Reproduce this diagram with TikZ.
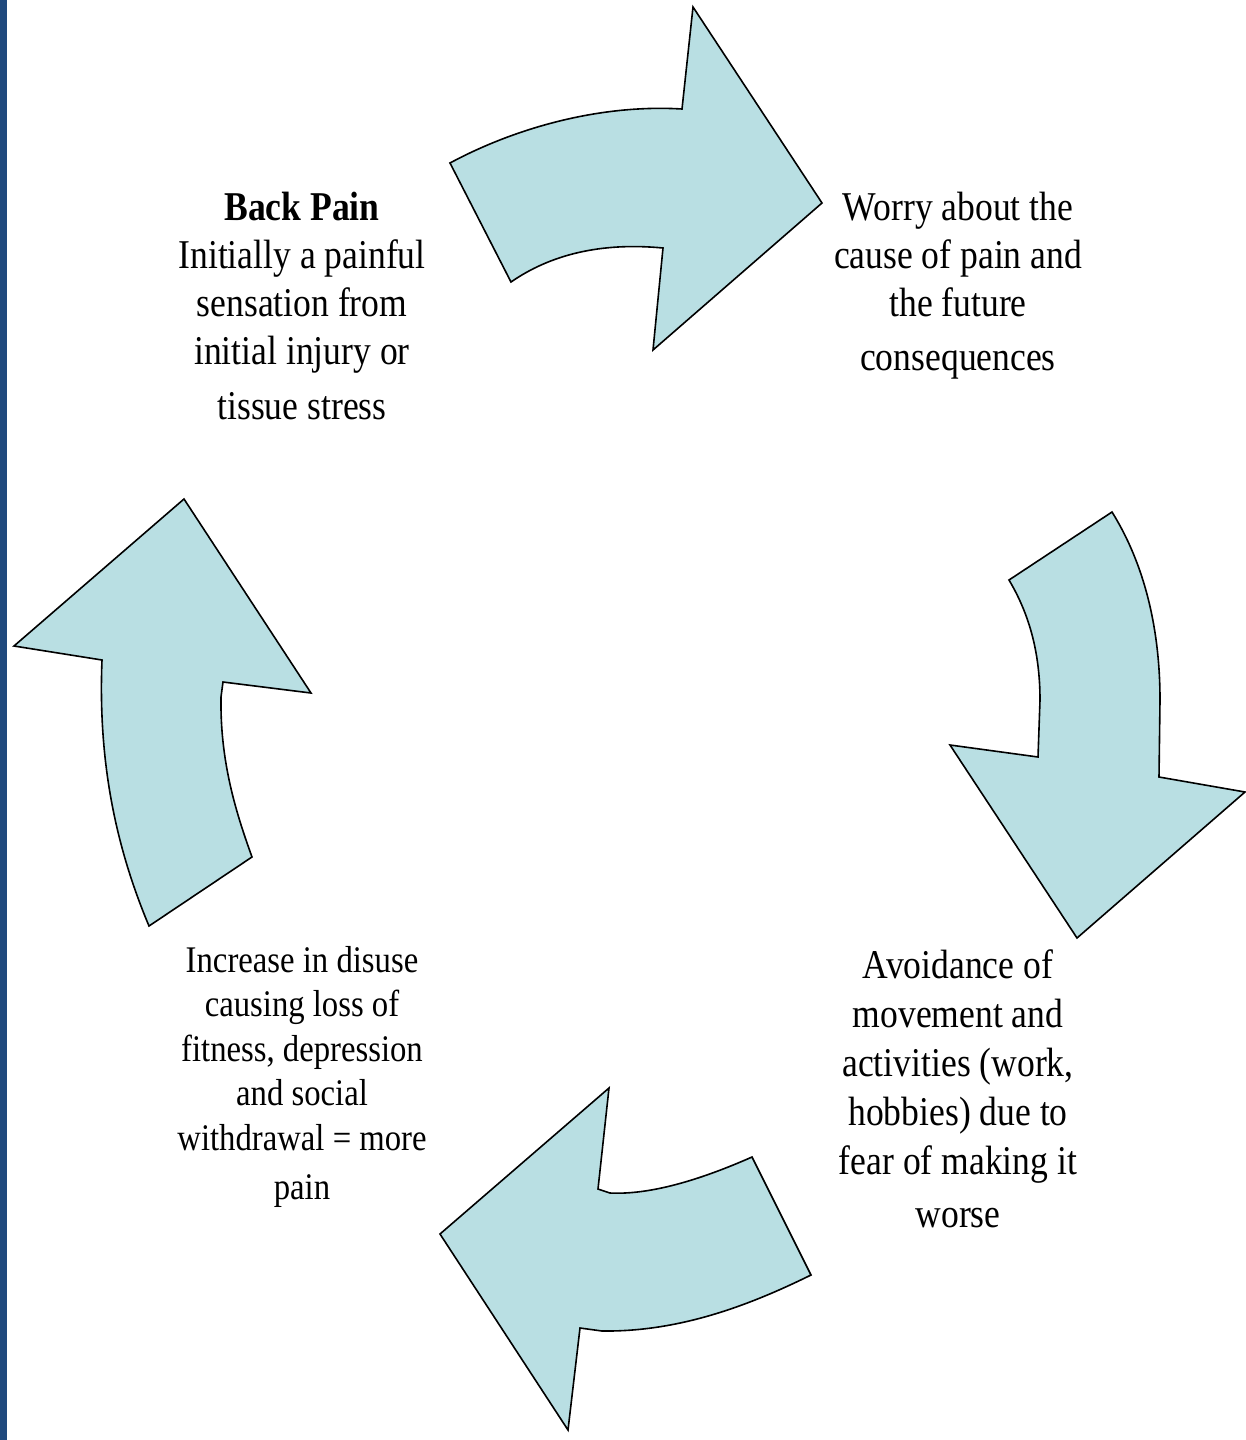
\documentclass[tikz,border=0pt]{standalone}
\usepackage{fontspec}
\setmainfont{Liberation Serif}[FakeStretch=0.87]
\definecolor{barblue}{HTML}{1F497D}
\definecolor{arrowfill}{HTML}{B9DFE3}
\begin{document}
\begin{tikzpicture}[x=1pt,y=-1pt,
  cyclearrow/.style={draw=black, fill=arrowfill, line width=1.6pt, line join=miter},
  steptext/.style={align=center, inner sep=0pt, anchor=north, font=\fontsize{40.9}{48}\selectfont},
  widetext/.style={align=center, inner sep=0pt, anchor=north, font=\fontsize{40.9}{49.2}\selectfont},
  smalltext/.style={align=center, inner sep=0pt, anchor=north, font=\fontsize{37.6}{44.5}\selectfont}]
\useasboundingbox (0,0) rectangle (1246,1440);
\fill[white] (0,0) rectangle (1246,1440);
\fill[barblue] (0,0) rectangle (7,1440);

% top arrow (pointing right)
\draw[cyclearrow] (450,163) .. controls (515,128) and (600,104) .. (682,109)
  -- (693,7) -- (822,203) -- (653,350) -- (663,248)
  .. controls (600,242) and (550,255) .. (511,282) -- cycle;

% right arrow (pointing down)
\draw[cyclearrow] (1112,512) .. controls (1145,565) and (1160,630) .. (1160,700)
  -- (1159,777) -- (1245,792) -- (1077,938) -- (950,745) -- (1038,757) -- (1040,700)
  .. controls (1040,650) and (1028,612) .. (1009,580) -- cycle;

% bottom arrow (pointing left)
\draw[cyclearrow] (752,1157) .. controls (700,1180) and (650,1195) .. (610,1193)
  -- (598,1189) -- (609,1088) -- (440,1234) -- (568,1430) -- (580,1328) -- (602,1331)
  .. controls (680,1332) and (750,1305) .. (811,1275) -- cycle;

% left arrow (pointing up)
\draw[cyclearrow] (184,499) -- (311,693) -- (223,682) -- (221,697)
  .. controls (220,760) and (235,810) .. (252,857)
  -- (149,926) .. controls (115,845) and (98,760) .. (102,660)
  -- (14,646) -- cycle;

\node[steptext] (backpain) at (302,192) {\textbf{Back Pain}\\Initially a painful\\sensation from\\initial injury or\\[7pt]tissue stress};
\node[steptext] (worry) at (958,192) {Worry about the\\cause of pain and\\the future\\[6pt]consequences};
\node[widetext] (avoid) at (958,949) {Avoidance of\\movement and\\activities (work,\\hobbies) due to\\fear of making it\\[3pt]worse};
\node[smalltext] (disuse) at (302,946) {Increase in disuse\\causing loss of\\fitness, depression\\and social\\withdrawal = more\\[5pt]pain};
\end{tikzpicture}
\end{document}
